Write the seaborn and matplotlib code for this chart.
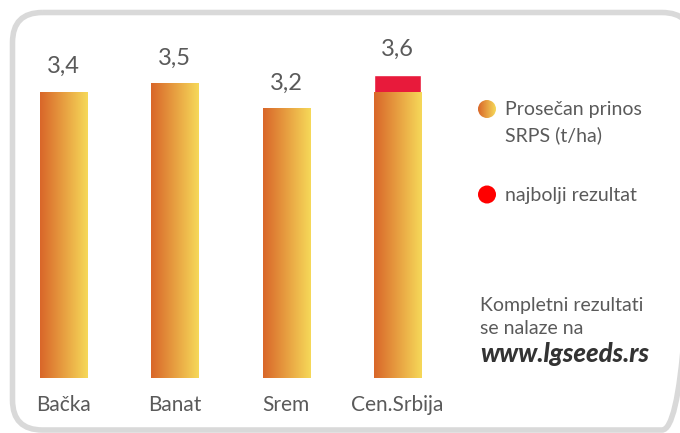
import numpy as np
import pandas as pd
import matplotlib
matplotlib.use("Agg")
import matplotlib.pyplot as plt
from matplotlib.patches import FancyBboxPatch, Circle
import seaborn as sns

# Data
regions = ["Bačka", "Banat", "Srem", "Cen.Srbija"]
average_yield = [3.4, 3.5, 3.2, 3.4]          # Prosečan prinos SRPS (t/ha)
best_result = [np.nan, np.nan, np.nan, 3.6]    # najbolji rezultat
value_labels = [3.4, 3.5, 3.2, 3.6]

legend_avg = "Prosečan prinos\nSRPS (t/ha)"
legend_best = "najbolji rezultat"
note_lines = ["Kompletni rezultati", "se nalaze na"]
note_url = "www.lgseeds.rs"

# Colours
grad_left = np.array([0.85, 0.40, 0.16])
grad_right = np.array([0.965, 0.85, 0.35])
red_bar = "#e81a3b"
red_dot = "#ff0000"
text_col = "#5a5a5a"
frame_col = "#d9d9d9"
text_weight = "normal"

sns.set_theme(style="white")
plt.rcParams["font.family"] = ["Lato", "DejaVu Sans"]

W, H = 680, 433
fig = plt.figure(figsize=(W / 100, H / 100), dpi=100)
fig.patch.set_facecolor("white")

# Main bar axes placed in pixel terms
ax_left, ax_right, ax_bottom, ax_top = 10, 460, 55, 413
ax = fig.add_axes([ax_left / W, ax_bottom / H, (ax_right - ax_left) / W, (ax_top - ax_bottom) / H])
ax.set_facecolor("none")

df = pd.DataFrame({"region": regions, "avg": average_yield, "best": best_result})

bar_w = 0.422
sns.barplot(data=df, x="region", y="best", color=red_bar, width=bar_w, ax=ax,
            saturation=1, zorder=1)
n_best = len(ax.patches)
sns.barplot(data=df, x="region", y="avg", color="#e89a3a", width=bar_w, ax=ax,
            saturation=1, zorder=2)
avg_patches = ax.patches[n_best:]

xlim = (-0.48, 3.56)
ylim = (0, 4.25)

# Horizontal orange-to-yellow gradient inside each average bar
grad = np.linspace(0, 1, 256)
grad_img = (grad_left[None, :] * (1 - grad[:, None]) + grad_right[None, :] * grad[:, None])[None, :, :]
for p in avg_patches:
    x0, y0 = p.get_x(), p.get_y()
    w, h = p.get_width(), p.get_height()
    if not np.isfinite(h) or h == 0:
        continue
    im = ax.imshow(grad_img, extent=[x0, x0 + w, y0, y0 + h], aspect="auto",
                   interpolation="bilinear", zorder=2)
    im.set_clip_path(p)
    p.set_facecolor("none")
    p.set_edgecolor("none")

ax.set_xlim(*xlim)
ax.set_ylim(*ylim)

# Value labels above bars
for i, v in enumerate(value_labels):
    ax.text(i, v + 0.30, f"{v:.1f}".replace(".", ","), ha="center", va="center",
            fontsize=17, color=text_col, fontweight=text_weight)

ax.set_xlabel("")
ax.set_ylabel("")
ax.set_yticks([])
ax.tick_params(axis="x", length=0, pad=12, labelsize=15, labelcolor=text_col)
for lbl in ax.get_xticklabels():
    lbl.set_fontweight(text_weight)
sns.despine(ax=ax, left=True, bottom=True)

# Overlay in pixel coordinates for the frame, legend and note
ov = fig.add_axes([0, 0, 1, 1])
ov.set_xlim(0, W)
ov.set_ylim(H, 0)
ov.axis("off")
ov.set_facecolor("none")

fx0, fy0, fx1, fy1, rad = 12.5, 12.5, 692, 430, 30
frame = FancyBboxPatch((fx0 + rad, fy0 + rad), fx1 - fx0 - 2 * rad, fy1 - fy0 - 2 * rad,
                       boxstyle=f"round,pad={rad}", linewidth=4.0, edgecolor=frame_col,
                       facecolor="none", zorder=0, clip_on=False)
ov.add_patch(frame)

# Legend markers
c1 = Circle((487, 109), 9, facecolor="none", edgecolor="none")
ov.add_patch(c1)
im = ov.imshow(grad_img, extent=[478, 496, 118, 100], aspect="auto", interpolation="bilinear")
im.set_clip_path(c1)
ov.add_patch(Circle((487, 194.5), 9, facecolor=red_dot, edgecolor="none"))
ov.set_xlim(0, W)
ov.set_ylim(H, 0)

ov.text(505, 110, legend_avg.split("\n")[0], ha="left", va="center", fontsize=14,
        color=text_col, fontweight=text_weight)
ov.text(505, 135, legend_avg.split("\n")[1], ha="left", va="center", fontsize=14,
        color=text_col, fontweight=text_weight)
ov.text(505, 195, legend_best, ha="left", va="center", fontsize=14,
        color=text_col, fontweight=text_weight)

ov.text(480, 305, note_lines[0], ha="left", va="center", fontsize=14,
        color=text_col, fontweight=text_weight)
ov.text(480, 329, note_lines[1], ha="left", va="center", fontsize=14,
        color=text_col, fontweight=text_weight)
ov.text(480, 354, note_url, ha="left", va="center", fontsize=18.5,
        color="#333333", fontweight="black", fontstyle="italic")

fig.savefig("out.png", dpi=100, facecolor="white")
